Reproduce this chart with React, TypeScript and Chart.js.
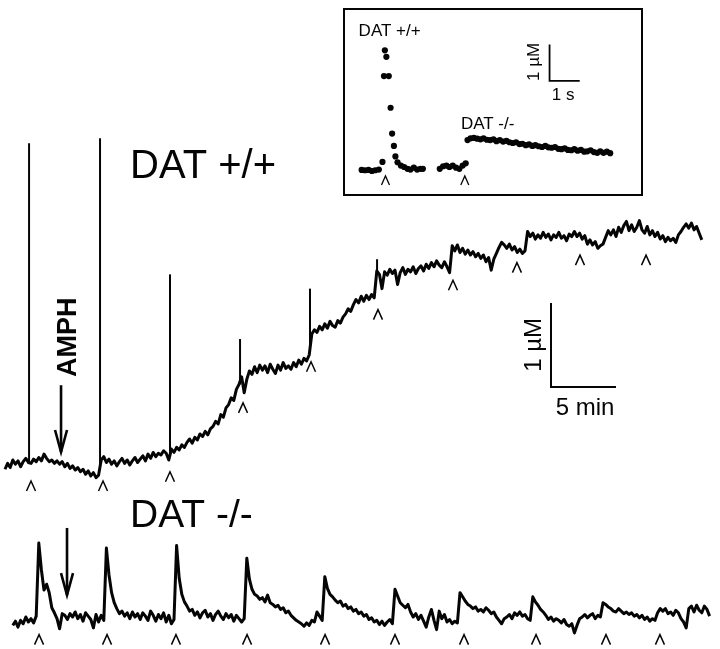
import { useEffect, useRef } from "react";
import { Chart, registerables } from "chart.js";
Chart.register(...registerables);

const INK = "#050505";
const FONT = "'Liberation Sans', Arial, sans-serif";

// ---------- main traces (time in min, concentration in µM above each trace's own baseline) ----------
const STEP_MIN = 0.2;
const WT_START_MIN = 0;
const KO_START_MIN = 0.6;

const wtTrace = [
  -0.05, 0.02, -0.03, 0.06, 0.01, 0.05, -0.02, 0.04, 0.08, 0.03,
  0.02, 0.07, 0.04, 0.09, 0.05, 0.13, 0.08, 0.04, 0.06, 0.02,
  0.05, 0.01, 0.04, -0.02, 0.02, -0.04, -0.01, -0.06, -0.03, -0.08,
  -0.05, -0.11, -0.07, -0.13, -0.09, -0.15, -0.12, 0.06, 0.1, 0.03,
  0.07, 0.01, 0.05, -0.01, 0.04, 0.08, 0.02, 0.06, 0.0, 0.05,
  0.09, 0.03, 0.07, 0.11, 0.05, 0.13, 0.08, 0.15, 0.1, 0.14,
  0.12, 0.17, 0.14, 0.06, 0.19, 0.15, 0.21, 0.18, 0.24, 0.21,
  0.27, 0.31, 0.26, 0.33, 0.3, 0.37, 0.34, 0.4, 0.36, 0.43,
  0.46, 0.52, 0.49, 0.6, 0.57, 0.68, 0.72, 0.8, 0.77, 0.9,
  0.96, 1.05, 0.86, 1.02, 1.12, 1.08, 1.17, 1.1, 1.19, 1.13,
  1.18, 1.1, 1.2, 1.14, 1.09, 1.19, 1.13, 1.22, 1.15, 1.18,
  1.14, 1.22, 1.17, 1.25, 1.2, 1.27, 1.24, 1.31, 1.56, 1.61,
  1.58, 1.65, 1.61, 1.68, 1.63, 1.71, 1.66, 1.64, 1.72, 1.69,
  1.76, 1.8, 1.86, 1.83, 1.91, 1.97, 1.93, 2.01, 1.95, 2.02,
  1.97, 2.03, 1.99, 2.31, 2.27, 2.1, 2.3, 2.26, 2.33, 2.28,
  2.32, 2.15, 2.29, 2.35, 2.27, 2.33, 2.3, 2.36, 2.28, 2.34,
  2.37, 2.31, 2.39, 2.34, 2.41, 2.36, 2.43, 2.38, 2.35, 2.42,
  2.36, 2.29, 2.61, 2.55, 2.62, 2.53, 2.58, 2.51, 2.56, 2.5,
  2.54, 2.48, 2.52, 2.46, 2.5, 2.42, 2.47, 2.32, 2.45, 2.52,
  2.59, 2.65, 2.62, 2.58, 2.63, 2.56, 2.6, 2.53, 2.57, 2.52,
  2.55, 2.78, 2.72, 2.76, 2.69, 2.74, 2.7, 2.77, 2.71, 2.75,
  2.68, 2.74, 2.71, 2.77, 2.7, 2.73, 2.67, 2.75, 2.72, 2.78,
  2.72, 2.76, 2.69, 2.73, 2.63, 2.68, 2.62, 2.66, 2.58, 2.61,
  2.63, 2.71, 2.79, 2.74, 2.8, 2.72, 2.83, 2.77, 2.85, 2.9,
  2.79, 2.86, 2.78, 2.83, 2.91, 2.8, 2.76, 2.84, 2.74, 2.79,
  2.72, 2.77, 2.69, 2.73, 2.66, 2.71, 2.67, 2.7, 2.65, 2.74,
  2.78, 2.83, 2.87, 2.82, 2.88, 2.8, 2.84, 2.76, 2.68,
];

const koTrace = [
  -0.1, -0.05, -0.12, -0.04, -0.08, 0.0, -0.06, -0.02, -0.07, 0.01,
  0.88, 0.56, 0.32, 0.39, 0.29, 0.11, 0.05, -0.02, -0.14, 0.04,
  0.02, -0.03, 0.04, 0.0, 0.06, -0.02, 0.03, -0.05, 0.05, 0.01,
  -0.03, -0.13, 0.03, -0.06, 0.02, -0.04, 0.82, 0.5, 0.29, 0.17,
  0.1, 0.04, 0.07, 0.01, 0.05, -0.02, 0.06, 0.0, 0.04, -0.03,
  0.05, 0.01, -0.04, 0.07, 0.02, -0.05, 0.03, -0.02, 0.05, -0.06,
  0.02, -0.08, -0.03, 0.85, 0.46, 0.27, 0.18, 0.13, 0.07, 0.09,
  0.02, 0.06, -0.01, 0.05, 0.08, 0.0, 0.04, -0.04, 0.03, 0.07,
  0.01, -0.03, 0.04, -0.01, 0.03, -0.05, 0.02, -0.02, -0.06, -0.02,
  0.7, 0.45, 0.33, 0.27, 0.25, 0.21, 0.23, 0.18, 0.26, 0.17,
  0.15, 0.12, 0.14, 0.09, 0.11, 0.05, 0.07, 0.02, -0.01, -0.04,
  -0.06, -0.08, -0.11, -0.07, -0.1, -0.04, -0.06, 0.06, 0.01, -0.04,
  0.48, 0.34, 0.27, 0.24, 0.2, 0.17, 0.19, 0.13, 0.15, 0.1,
  0.12, 0.07, 0.09, 0.04, 0.06, 0.01, 0.03, -0.03, -0.01, -0.06,
  -0.04, -0.09, -0.05, -0.1, -0.06, -0.03, -0.08, 0.33, 0.25, 0.17,
  0.14, 0.11, 0.15, 0.06, 0.0, 0.04, -0.03, 0.02, -0.05, -0.12,
  0.0, 0.09, -0.04, -0.15, 0.07, -0.02, 0.03, -0.06, -0.03, -0.08,
  -0.05, -0.07, 0.29, 0.24, 0.19, 0.15, 0.13, 0.1, 0.12, 0.07,
  0.09, 0.06, 0.11, 0.08, 0.04, 0.06, 0.0, -0.04, -0.08, -0.02,
  0.0, 0.03, -0.02, 0.05, 0.02, 0.06, 0.01, 0.03, -0.02, -0.04,
  0.24, 0.18, 0.14, 0.09, 0.06, 0.02, -0.03, 0.0, -0.05, -0.02,
  -0.04, -0.07, -0.03, -0.09, -0.11, -0.08, -0.19, -0.1, -0.02, 0.0,
  0.03, -0.01, 0.02, 0.04, -0.02, 0.02, 0.0, 0.17, 0.15, 0.12,
  0.1, 0.07, 0.06, 0.1, 0.07, 0.04, 0.06, 0.03, 0.05, 0.01,
  0.03, -0.01, 0.02, -0.03, 0.0, -0.05, -0.02, -0.04, 0.05, 0.1,
  0.07, 0.1, 0.04, 0.06, 0.02, 0.08, 0.05, -0.02, -0.06, -0.13,
  0.1, 0.13, 0.06, 0.14, 0.08, 0.05, 0.13, 0.09, 0.01,
];

// fast release spikes on the DAT +/+ trace
const wtSpikeTimes = [1.85, 7.31, 12.69, 18.08, 23.46, 28.62];
const wtSpikeBase = [0.03, 0.0, 0.12, 0.96, 1.4, 2.28];
const wtSpikePeak = [3.83, 3.89, 2.27, 1.5, 2.1, 2.45];

// stimulation marks (^)
const wtStimTimes = [2.0, 7.54, 12.69, 18.31, 23.54, 28.69, 34.46, 39.38, 44.23, 49.31];
const wtStimLevels = [-0.25, -0.25, -0.14, 0.68, 1.17, 1.79, 2.14, 2.35, 2.44, 2.44];
const koStimTimes = [2.62, 7.85, 13.15, 18.62, 24.62, 30.0, 35.31, 40.85, 46.23, 50.38];
const KO_STIM_LEVEL = -0.27;

// AMPH application
const AMPH_WT = { t: 4.31, from: 0.95, to: 0.155 };
const AMPH_KO = { t: 4.77, from: 1.06, to: 0.26 };

// scale bar: 5 min x 1 µM
const SCALE_MIN = 5;
const SCALE_UM = 1;
const SCALE_ORIGIN = { t: 42.0, v: 0.93 };

// ---------- inset (time in s, µM) ----------
const insetWtTime = [0, 0.11, 0.23, 0.34, 0.45, 0.57, 0.69, 0.74, 0.77, 0.82, 0.9, 0.96, 1.01, 1.07, 1.12, 1.19, 1.3, 1.41, 1.52, 1.62, 1.73, 1.84, 1.95, 2.03];
const insetWtConc = [0, -0.01, 0, -0.03, -0.01, 0.01, 0.22, 2.58, 3.29, 3.11, 2.58, 1.71, 1.0, 0.66, 0.37, 0.21, 0.12, 0.08, 0.03, 0.01, 0.06, 0.01, 0.03, 0.03];
const insetKoTime = [
  2.59, 2.7, 2.81, 2.91, 3.02, 3.13, 3.24, 3.35, 3.45, 3.51,
  3.61, 3.72, 3.83, 3.94, 4.04, 4.15, 4.26, 4.37, 4.47, 4.58,
  4.69, 4.8, 4.9, 5.01, 5.12, 5.23, 5.33, 5.44, 5.55, 5.66,
  5.76, 5.87, 5.98, 6.09, 6.19, 6.3, 6.41, 6.52, 6.62, 6.73,
  6.84, 6.95, 7.05, 7.16, 7.27, 7.38, 7.48, 7.59, 7.7, 7.81,
  7.91, 8.02, 8.13, 8.24,
];
const insetKoConc = [
  0.03, 0.1, 0.12, 0.08, 0.12, 0.06, 0.03, 0.12, 0.18, 0.82,
  0.87, 0.88, 0.86, 0.84, 0.87, 0.83, 0.82, 0.84, 0.79, 0.82,
  0.78, 0.8, 0.76, 0.74, 0.76, 0.71, 0.72, 0.68, 0.7, 0.66,
  0.68, 0.65, 0.63, 0.66, 0.62, 0.61, 0.63, 0.58, 0.57, 0.59,
  0.55, 0.54, 0.57, 0.53, 0.55, 0.5, 0.51, 0.54, 0.49, 0.47,
  0.51, 0.47, 0.5, 0.46,
];
const insetStimTimes = [0.79, 3.42];
const INSET_STIM_LEVEL = -0.29;
const INSET_SCALE_S = 1;
const INSET_SCALE_UM = 1;
const INSET_SCALE_ORIGIN = { t: 6.23, v: 2.45 };

// ---------- helpers ----------
function caret(ctx: CanvasRenderingContext2D, x: number, y: number, w: number, h: number) {
  ctx.beginPath();
  ctx.moveTo(x - w / 2, y + h / 2);
  ctx.lineTo(x, y - h / 2);
  ctx.lineTo(x + w / 2, y + h / 2);
  ctx.stroke();
}

function downArrow(ctx: CanvasRenderingContext2D, x: number, y0: number, y1: number) {
  ctx.save();
  ctx.lineWidth = 2.6;
  ctx.lineCap = "butt";
  ctx.beginPath();
  ctx.moveTo(x, y0);
  ctx.lineTo(x, y1);
  ctx.stroke();
  ctx.beginPath();
  ctx.moveTo(x - 6, y1 - 22);
  ctx.lineTo(x, y1);
  ctx.lineTo(x + 6, y1 - 22);
  ctx.stroke();
  ctx.restore();
}

function text(
  ctx: CanvasRenderingContext2D,
  s: string,
  x: number,
  y: number,
  font: string,
  align: CanvasTextAlign,
  baseline: CanvasTextBaseline,
  rotate = false
) {
  ctx.save();
  ctx.font = font;
  ctx.textAlign = align;
  ctx.textBaseline = baseline;
  ctx.translate(x, y);
  if (rotate) ctx.rotate(-Math.PI / 2);
  ctx.fillText(s, 0, 0);
  ctx.restore();
}

const mainOverlay = {
  id: "mainOverlay",
  afterDatasetsDraw(chart: any) {
    const ctx: CanvasRenderingContext2D = chart.ctx;
    const xs = chart.scales.x;
    const yT = chart.scales.yTop;
    const yB = chart.scales.yBot;
    ctx.save();
    ctx.strokeStyle = INK;
    ctx.fillStyle = INK;
    ctx.lineWidth = 1.5;
    wtStimTimes.forEach((t, i) => caret(ctx, xs.getPixelForValue(t), yT.getPixelForValue(wtStimLevels[i]), 9, 10));
    koStimTimes.forEach((t) => caret(ctx, xs.getPixelForValue(t), yB.getPixelForValue(KO_STIM_LEVEL), 9, 10));
    downArrow(ctx, xs.getPixelForValue(AMPH_WT.t), yT.getPixelForValue(AMPH_WT.from), yT.getPixelForValue(AMPH_WT.to));
    downArrow(ctx, xs.getPixelForValue(AMPH_KO.t), yB.getPixelForValue(AMPH_KO.from), yB.getPixelForValue(AMPH_KO.to));
    text(ctx, "AMPH", xs.getPixelForValue(4.85), yT.getPixelForValue(1.52), `bold 27px ${FONT}`, "center", "middle", true);
    text(ctx, "DAT +/+", xs.getPixelForValue(9.62), yT.getPixelForValue(3.42), `40px ${FONT}`, "left", "alphabetic");
    text(ctx, "DAT -/-", xs.getPixelForValue(9.62), yB.getPixelForValue(1.07), `39px ${FONT}`, "left", "alphabetic");
    text(ctx, "1 µM", xs.getPixelForValue(40.69), yT.getPixelForValue(1.43), `24px ${FONT}`, "center", "middle", true);
    text(ctx, "5 min", xs.getPixelForValue(44.62), yT.getPixelForValue(0.595), `24px ${FONT}`, "center", "alphabetic");
    ctx.restore();
  },
};

const insetOverlay = {
  id: "insetOverlay",
  afterDatasetsDraw(chart: any) {
    const ctx: CanvasRenderingContext2D = chart.ctx;
    const xs = chart.scales.x;
    const ys = chart.scales.y;
    ctx.save();
    ctx.strokeStyle = INK;
    ctx.fillStyle = INK;
    ctx.lineWidth = 1.3;
    insetStimTimes.forEach((t) => caret(ctx, xs.getPixelForValue(t), ys.getPixelForValue(INSET_STIM_LEVEL), 8, 9));
    text(ctx, "DAT +/+", xs.getPixelForValue(-0.1), ys.getPixelForValue(3.68), `17px ${FONT}`, "left", "alphabetic");
    text(ctx, "DAT -/-", xs.getPixelForValue(3.29), ys.getPixelForValue(1.13), `17px ${FONT}`, "left", "alphabetic");
    text(ctx, "1 µM", xs.getPixelForValue(5.71), ys.getPixelForValue(2.97), `17px ${FONT}`, "center", "middle", true);
    text(ctx, "1 s", xs.getPixelForValue(6.68), ys.getPixelForValue(1.92), `17px ${FONT}`, "center", "alphabetic");
    ctx.restore();
  },
};

export default function App() {
  const mainRef = useRef<HTMLCanvasElement>(null);
  const insetRef = useRef<HTMLCanvasElement>(null);

  useEffect(() => {
    const wtData = wtTrace.map((v, i) => ({ x: WT_START_MIN + i * STEP_MIN, y: v }));
    const koData = koTrace.map((v, i) => ({ x: KO_START_MIN + i * STEP_MIN, y: v }));
    const spikeSets = wtSpikeTimes.map((t, i) => ({
      data: [
        { x: t, y: wtSpikeBase[i] },
        { x: t, y: wtSpikePeak[i] },
      ],
      xAxisID: "x",
      yAxisID: "yTop",
      borderColor: INK,
      borderWidth: 2,
      pointRadius: 0,
    }));
    const scaleBar = [
      { x: SCALE_ORIGIN.t + SCALE_MIN, y: SCALE_ORIGIN.v },
      { x: SCALE_ORIGIN.t, y: SCALE_ORIGIN.v },
      { x: SCALE_ORIGIN.t, y: SCALE_ORIGIN.v + SCALE_UM },
    ];

    const main = new Chart(mainRef.current!, {
      type: "line",
      data: {
        datasets: [
          { data: wtData, xAxisID: "x", yAxisID: "yTop", borderColor: INK, borderWidth: 3, pointRadius: 0, borderJoinStyle: "round" },
          { data: koData, xAxisID: "x", yAxisID: "yBot", borderColor: INK, borderWidth: 3, pointRadius: 0, borderJoinStyle: "round" },
          ...spikeSets,
          { data: scaleBar, xAxisID: "x", yAxisID: "yTop", borderColor: INK, borderWidth: 2, pointRadius: 0 },
        ] as any,
      },
      options: {
        animation: false,
        responsive: false,
        maintainAspectRatio: false,
        layout: { padding: 0 },
        plugins: { legend: { display: false }, tooltip: { enabled: false }, title: { display: false } },
        elements: { line: { tension: 0 }, point: { radius: 0 } },
        scales: {
          x: { type: "linear", display: false, min: -0.385, max: 55.0 },
          yTop: { type: "linear", display: false, min: -2.19, max: 5.536 },
          yBot: { type: "linear", display: false, min: -0.381, max: 7.345 },
        },
      } as any,
      plugins: [mainOverlay],
    });

    const insetScale = [
      { x: INSET_SCALE_ORIGIN.t + INSET_SCALE_S, y: INSET_SCALE_ORIGIN.v },
      { x: INSET_SCALE_ORIGIN.t, y: INSET_SCALE_ORIGIN.v },
      { x: INSET_SCALE_ORIGIN.t, y: INSET_SCALE_ORIGIN.v + INSET_SCALE_UM },
    ];
    const inset = new Chart(insetRef.current!, {
      type: "line",
      data: {
        datasets: [
          {
            data: insetWtTime.map((t, i) => ({ x: t, y: insetWtConc[i] })),
            showLine: false, pointRadius: 3.1, pointBackgroundColor: INK, pointBorderWidth: 0,
          },
          {
            data: insetKoTime.map((t, i) => ({ x: t, y: insetKoConc[i] })),
            showLine: false, pointRadius: 3.1, pointBackgroundColor: INK, pointBorderWidth: 0,
          },
          { data: insetScale, borderColor: INK, borderWidth: 1.8, pointRadius: 0 },
        ] as any,
      },
      options: {
        animation: false,
        responsive: false,
        maintainAspectRatio: false,
        layout: { padding: 0 },
        plugins: { legend: { display: false }, tooltip: { enabled: false }, title: { display: false } },
        scales: {
          x: { type: "linear", display: false, min: -0.419, max: 9.129 },
          y: { type: "linear", display: false, min: -0.553, max: 4.289 },
        },
      } as any,
      plugins: [insetOverlay],
    });

    return () => {
      main.destroy();
      inset.destroy();
    };
  }, []);

  return (
    <div style={{ position: "fixed", left: 0, top: 0, width: 720, height: 649, background: "#fff" }}>
      <canvas ref={mainRef} width={720} height={649} style={{ position: "absolute", left: 0, top: 0, width: 720, height: 649 }} />
      <div
        style={{
          position: "absolute", left: 343, top: 8, width: 300, height: 188,
          border: `2px solid ${INK}`, boxSizing: "border-box", background: "#fff",
        }}
      >
        <canvas ref={insetRef} width={296} height={184} style={{ display: "block", width: 296, height: 184 }} />
      </div>
    </div>
  );
}
